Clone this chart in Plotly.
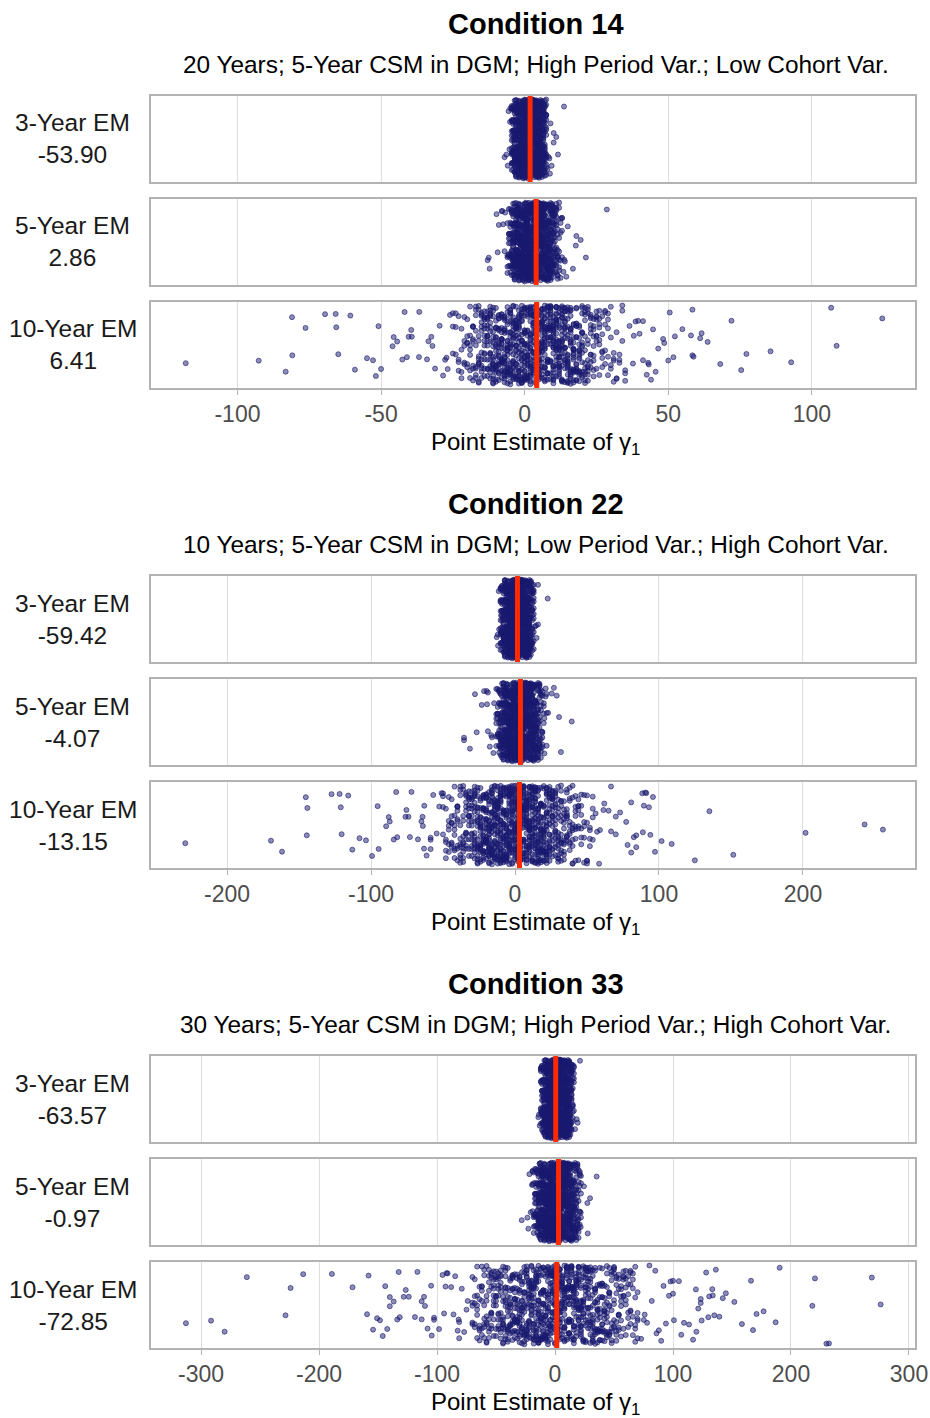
import numpy as np
import plotly.graph_objects as go

# ---------------- text ----------------
conditions = ["Condition 14", "Condition 22", "Condition 33"]
subtitles = [
    "20 Years; 5-Year CSM in DGM; High Period Var.; Low Cohort Var.",
    "10 Years; 5-Year CSM in DGM; Low Period Var.; High Cohort Var.",
    "30 Years; 5-Year CSM in DGM; High Period Var.; High Cohort Var.",
]
row_names = ["3-Year EM", "5-Year EM", "10-Year EM"]
row_stats = [["-53.90", "2.86", "6.41"],
             ["-59.42", "-4.07", "-13.15"],
             ["-63.57", "-0.97", "-72.85"]]
red_line_values = [[1.9, 4.0, 4.2], [1.7, 3.8, 3.1], [0.6, 3.0, 1.5]]
tick_values = [[-100, -50, 0, 50, 100],
               [-200, -100, 0, 100, 200],
               [-300, -200, -100, 0, 100, 200, 300]]
tick_labels = [["-100", "-50", "0", "50", "100"],
               ["-200", "-100", "0", "100", "200"],
               ["-300", "-200", "-100", "0", "100", "200", "300"]]
x_ranges = [[-130.1, 135.9], [-252.8, 277.8], [-342.4, 305.1]]

# ---------------- data: dense cores (value, count) + individually read points ----------------
# Condition 14
c14_3_bins = [-4.5, -4, -3.5, -3, -2.5, -2, -1.5, -1, -0.5, 0, 0.5, 1, 1.5, 2, 2.5, 3, 3.5, 4, 4.5, 5, 5.5, 6, 6.5, 7, 7.5]
c14_3_counts = [15, 22, 28, 33, 37, 40, 43, 45, 46, 47, 48, 48, 49, 49, 48, 47, 46, 45, 43, 40, 37, 33, 28, 22, 15]
c14_3_extra = [-7.0, -6.4, -5.9, -5.6, -5.3, -5.1, -5.0, 8.0, 8.3, 8.6, 8.8, 9.0, 9.4, 10.1, 10.1, 11.0, 11.6, 13.7]

c14_5_bins = [-6, -5.5, -5, -4.5, -4, -3.5, -3, -2.5, -2, -1.5, -1, -0.5, 0, 0.5, 1, 1.5, 2, 2.5, 3, 3.5,
              4, 4.5, 5, 5.5, 6, 6.5, 7, 7.5, 8, 8.5, 9, 9.5, 10, 10.5, 11, 11.5, 12, 12.5, 13]
c14_5_counts = [5, 8, 11, 15, 20, 24, 27, 29, 30, 31, 32, 32, 33, 33, 33, 33, 33, 33, 33, 33,
                33, 33, 33, 32, 32, 31, 30, 29, 28, 26, 24, 21, 18, 15, 12, 9, 7, 5, 4]
c14_5_extra = [-12.9, -12.5, -12.2, -9.8, -9.4, -9.0, -8.0, -7.8, -7.5, -7.0, -6.8, 13.5, 13.8, 14.0,
               14.5, 15.0, 16.8, 17.8, 18.0, 19.5, 21.3, 28.6]

c14_10_bins = [-25, -24, -23, -22, -21, -20, -19, -18, -17, -16, -15, -14, -13, -12, -11, -10, -9, -8, -7, -6,
               -5, -4, -3, -2, -1, 0, 1, 2, 3, 4, 5, 6, 7, 8, 9, 10, 11, 12, 13, 14,
               15, 16, 17, 18, 19, 20, 21, 22, 23, 24, 25, 26, 27, 28, 29, 30, 31, 32, 33, 34, 35]
c14_10_counts = [3, 3, 4, 4, 5, 6, 7, 8, 9, 11, 12, 14, 15, 17, 18, 19, 20, 21, 22, 22,
                 23, 23, 24, 24, 24, 25, 25, 25, 25, 25, 25, 25, 25, 24, 24, 24, 23, 23, 22, 21,
                 20, 19, 18, 16, 15, 14, 12, 11, 10, 9, 8, 7, 6, 5, 5, 4, 4, 3, 3, 3, 3]
c14_10_extra = [-118.0, -92.6, -83.2, -81.0, -80.9, -76.3, -69.5, -65.8, -65.6, -64.9, -60.7, -59.1, -54.9,
                -52.8, -51.8, -50.9, -50.0, -46.0, -45.6, -44.4, -42.6, -41.8, -41.0, -40.4, -39.5, -39.3,
                -36.8, -36.7, -34.0, -33.5, -32.5, -32.1, -31.2, -29.6, -28.4, -27.7, -27.2, -26.8, -26.0,
                36.5, 37.7, 38.0, 38.6, 39.5, 40.0, 41.2, 41.2, 42.5, 43.0, 43.2, 44.0, 44.7, 45.6, 46.5,
                48.2, 48.6, 50.0, 50.5, 51.8, 52.3, 54.9, 57.9, 58.4, 58.4, 58.8, 61.1, 61.6, 63.7, 68.1,
                72.0, 75.4, 77.2, 85.6, 92.8, 106.7, 108.6, 124.5]

# Condition 22
c22_3_bins = [-10, -9, -8, -7, -6, -5, -4, -3, -2, -1, 0, 1, 2, 3, 4, 5, 6, 7, 8, 9, 10, 11, 12, 13]
c22_3_counts = [14, 20, 27, 33, 38, 42, 45, 47, 49, 50, 51, 51, 51, 50, 49, 48, 46, 44, 40, 36, 30, 24, 17, 11]
c22_3_extra = [-12.7, -12.0, -11.8, -11.3, -11.0, -9.7, 11.6, 12.5, 13.9, 14.6, 15.0, 16.0, 16.0, 22.7]

c22_5_bins = [-13, -12, -11, -10, -9, -8, -7, -6, -5, -4, -3, -2, -1, 0, 1, 2, 3, 4, 5, 6, 7, 8, 9,
              10, 11, 12, 13, 14, 15, 16, 17, 18, 19, 20]
c22_5_counts = [6, 9, 12, 16, 20, 24, 27, 30, 32, 33, 34, 35, 35, 35, 35, 35, 35, 35, 35, 35, 35, 34, 34,
                33, 32, 30, 28, 25, 22, 18, 14, 10, 7, 4]
c22_5_extra = [-35.4, -35.4, -31.3, -27.8, -26.6, -23.1, -21.5, -19.7, -19.4, -18.8, -18.8, -17.5, -16.5,
               -16.0, -15.0, -14.5, 18.5, 20.4, 20.4, 21.3, 21.3, 22.0, 22.0, 22.0, 23.0, 25.5, 27.0, 29.0,
               30.6, 31.9, 39.4]

c22_10_bins = [-50, -48, -46, -44, -42, -40, -38, -36, -34, -32, -30, -28, -26, -24, -22, -20, -18, -16,
               -14, -12, -10, -8, -6, -4, -2, 0, 2, 4, 6, 8, 10, 12, 14, 16, 18, 20, 22, 24, 26, 28, 30,
               32, 34, 36, 38, 40, 42, 44, 46, 48, 50, 52, 54]
c22_10_counts = [4, 5, 6, 7, 8, 9, 10, 11, 12, 14, 15, 17, 19, 21, 23, 25, 27, 28,
                 29, 30, 31, 31, 32, 32, 32, 32, 32, 32, 32, 31, 31, 30, 29, 28, 27, 25, 23, 21, 19, 17, 15,
                 14, 12, 11, 10, 9, 8, 7, 6, 5, 5, 4, 4]
c22_10_extra = [-229.0, -169.5, -161.8, -145.3, -144.6, -144.2, -127.4, -121.8, -121.0, -120.4, -115.8,
                -113.0, -108.0, -103.5, -99.3, -95.4, -94.7, -89.5, -87.7, -87.0, -84.2, -82.5, -81.8,
                -76.1, -75.4, -74.0, -73.0, -71.9, -67.4, -65.0, -64.2, -64.0, -63.2, -63.0, -61.4, -58.6,
                -58.6, -58.6, -56.8, -54.4, -52.6, -51.0, 56.0, 57.0, 58.4, 59.0, 61.4, 62.0, 65.0,
                66.7, 66.7, 70.0, 70.0, 73.0, 77.2, 78.2, 80.7, 80.7, 82.5, 84.2, 84.2, 88.4, 88.8, 89.5,
                90.5, 91.2, 93.0, 94.0, 95.8, 97.2, 101.8, 108.8, 124.9, 135.0, 151.6, 201.8, 242.8, 255.5]

# Condition 33
c33_3_bins = [-12, -11, -10, -9, -8, -7, -6, -5, -4, -3, -2, -1, 0, 1, 2, 3, 4, 5, 6, 7, 8, 9, 10, 11,
              12, 13, 14, 15, 16]
c33_3_counts = [10, 16, 22, 27, 31, 34, 37, 39, 40, 41, 42, 42, 43, 43, 43, 42, 42, 41, 40, 39, 37, 35, 32, 29,
                25, 20, 15, 10, 6]
c33_3_extra = [-14.1, -13.6, -13.0, -9.3, 11.9, 12.4, 12.7, 14.1, 14.1, 17.0, 18.4, 19.2, 21.2]

c33_5_bins = [-19, -18, -17, -16, -15, -14, -13, -12, -11, -10, -9, -8, -7, -6, -5, -4, -3, -2, -1, 0,
              1, 2, 3, 4, 5, 6, 7, 8, 9, 10, 11, 12, 13, 14, 15, 16, 17, 18, 19, 20, 21, 22]
c33_5_counts = [4, 6, 8, 10, 13, 16, 19, 21, 23, 25, 26, 27, 28, 28, 28, 28, 28, 28, 28, 28,
                28, 28, 28, 28, 28, 28, 28, 28, 27, 27, 26, 25, 24, 22, 20, 18, 15, 12, 10, 8, 6, 4]
c33_5_extra = [-28.2, -23.4, -22.6, -21.7, -20.6, -19.5, 21.0, 21.8, 21.8, 24.5, 27.4, 27.7, 29.7, 35.3]

c33_10_bins = [-70, -68, -66, -64, -62, -60, -58, -56, -54, -52, -50, -48, -46, -44, -42, -40, -38, -36,
               -34, -32, -30, -28, -26, -24, -22, -20, -18, -16, -14, -12, -10, -8, -6, -4, -2, 0, 2, 4,
               6, 8, 10, 12, 14, 16, 18, 20, 22, 24, 26, 28, 30, 32, 34, 36, 38, 40, 42, 44, 46, 48, 50,
               52, 54, 56, 58, 60, 62, 64, 66, 68, 70]
c33_10_counts = [5, 5, 6, 6, 7, 7, 8, 8, 9, 9, 10, 10, 11, 11, 12, 12, 13, 13,
                 14, 14, 15, 15, 16, 16, 17, 17, 18, 18, 18, 18, 18, 18, 18, 18, 18, 18, 18, 18,
                 18, 18, 18, 18, 18, 17, 17, 16, 16, 15, 15, 14, 14, 13, 13, 12, 12, 11, 11, 10, 10, 9, 9,
                 8, 8, 7, 7, 6, 6, 6, 5, 5, 5]
c33_10_extra = [-312.8, -291.5, -280.0, -261.2, -228.4, -224.1, -213.4, -189.1, -171.6, -159.3, -158.0,
                -154.2, -150.8, -148.3, -146.0, -143.9, -142.2, -140.0, -140.0, -136.7, -133.7, -132.5,
                -131.6, -128.2, -126.5, -123.9, -118.7, -116.6, -113.0, -113.0, -111.0, -110.2, -108.0,
                -105.0, -104.5, -102.5, -102.5, -98.3, -95.3, -94.0, -92.8, -91.9, -91.0, -88.0, -86.0,
                -84.6, -82.5, -81.7, -81.2, -81.2, -79.0, -77.0, -75.0, -74.0,
                73.0, 75.3, 76.0, 78.0, 80.0, 82.0, 85.0, 86.0, 88.0, 90.0, 92.0, 94.0, 96.6, 97.9, 100.0,
                100.0, 100.8, 105.0, 107.0, 109.3, 113.6, 117.0, 119.4, 119.8, 121.4, 123.5, 123.5, 124.3,
                128.1, 129.9, 130.7, 133.3, 133.7, 135.0, 136.3, 139.3, 142.2, 144.8, 152.0, 158.4, 166.1,
                167.8, 170.8, 176.8, 187.0, 190.4, 218.1, 220.3, 230.0, 232.2, 268.5, 276.0]

panel_rows = [
    [(c14_3_bins, c14_3_counts, c14_3_extra), (c14_5_bins, c14_5_counts, c14_5_extra),
     (c14_10_bins, c14_10_counts, c14_10_extra)],
    [(c22_3_bins, c22_3_counts, c22_3_extra), (c22_5_bins, c22_5_counts, c22_5_extra),
     (c22_10_bins, c22_10_counts, c22_10_extra)],
    [(c33_3_bins, c33_3_counts, c33_3_extra), (c33_5_bins, c33_5_counts, c33_5_extra),
     (c33_10_bins, c33_10_counts, c33_10_extra)],
]

# ---------------- style / layout constants ----------------
W, H = 930, 1418
FONT = "Liberation Sans, Arial, Helvetica, sans-serif"
PT_FILL = "rgba(25,25,112,0.5)"
PT_LINE = "rgba(25,25,112,0.6)"
RED = "#FF2A00"
BORDER = "#B3B3B3"
GRID = "#DEDEDE"
X_LEFT, X_RIGHT = 151, 915
LABEL_X = 72.5
TEXT_CX = 535.5
ROW_TOPS = [96, 199, 302]
ROW_H = 86
SHIFT = 480


def py(pix):
    return 1 - pix / H


fig = go.Figure()
annotations = []
layout_axes = {}

for p in range(3):
    for r in range(3):
        bins, counts, extra = panel_rows[p][r]
        x = np.sort(np.concatenate([np.repeat(np.array(bins, float), counts), np.array(extra, float)]))
        k = p * 3 + r + 1
        sfx = "" if k == 1 else str(k)
        xa, ya = "x" + sfx, "y" + sfx
        idx = np.arange(len(x), dtype=float)
        # deterministic vertical jitter (position only, not data)
        jit = ((idx * 0.6180339887 + idx * idx * 0.4142135624 + 0.27) % 1.0 - 0.5) * 0.92
        fig.add_trace(go.Scatter(
            x=x, y=jit, mode="markers", xaxis=xa, yaxis=ya, hoverinfo="skip",
            marker=dict(size=5, color=PT_FILL, line=dict(color=PT_LINE, width=1)),
            showlegend=False))
        m = red_line_values[p][r]
        fig.add_trace(go.Scatter(
            x=[m, m], y=[-0.5, 0.5], mode="lines", xaxis=xa, yaxis=ya, hoverinfo="skip",
            line=dict(color=RED, width=5), showlegend=False))

        top = ROW_TOPS[r] + p * SHIFT
        bottom = (r == 2)
        layout_axes["xaxis" + sfx] = dict(
            domain=[X_LEFT / W, X_RIGHT / W], anchor=ya, range=x_ranges[p], automargin=False,
            tickmode="array", tickvals=tick_values[p], ticktext=tick_labels[p],
            showticklabels=bottom, ticks="outside" if bottom else "", ticklen=5,
            tickcolor=BORDER, tickwidth=1, ticklabeloverflow="allow",
            tickfont=dict(family=FONT, size=23, color="#4D4D4D"),
            showgrid=True, gridcolor=GRID, gridwidth=1, zeroline=False,
            showline=True, mirror=True, linecolor=BORDER, linewidth=1.5,
            fixedrange=True)
        layout_axes["yaxis" + sfx] = dict(
            domain=[py(top + ROW_H), py(top)], anchor=xa, range=[-0.5, 0.5], automargin=False,
            showticklabels=False, showgrid=False, zeroline=False, ticks="",
            showline=True, mirror=True, linecolor=BORDER, linewidth=1.5,
            fixedrange=True)

        # two-line row label
        cy = top + ROW_H / 2
        annotations.append(dict(text=row_names[r] + "<br>" + row_stats[p][r], x=LABEL_X / W, y=py(cy),
                                xref="paper", yref="paper", xanchor="center", yanchor="middle",
                                align="center", showarrow=False,
                                font=dict(family=FONT, size=24.5, color="#1A1A1A")))

    cx = TEXT_CX / W
    annotations.append(dict(text="<b>" + conditions[p] + "</b>", x=cx, y=py(24 + p * SHIFT),
                            xref="paper", yref="paper", xanchor="center", yanchor="middle",
                            showarrow=False, font=dict(family=FONT, size=29, color="#000000")))
    annotations.append(dict(text=subtitles[p], x=cx, y=py(64 + p * SHIFT),
                            xref="paper", yref="paper", xanchor="center", yanchor="middle",
                            showarrow=False, font=dict(family=FONT, size=24.4, color="#000000")))
    annotations.append(dict(text="Point Estimate of γ<sub>1</sub>", x=cx, y=py(443 + p * SHIFT),
                            xref="paper", yref="paper", xanchor="center", yanchor="middle",
                            showarrow=False, font=dict(family=FONT, size=24, color="#000000")))

fig.update_layout(
    width=W, height=H, margin=dict(l=0, r=0, t=0, b=0, autoexpand=False),
    paper_bgcolor="white", plot_bgcolor="white",
    showlegend=False, annotations=annotations, **layout_axes)

fig.write_html("out.html", config={"responsive": False})
